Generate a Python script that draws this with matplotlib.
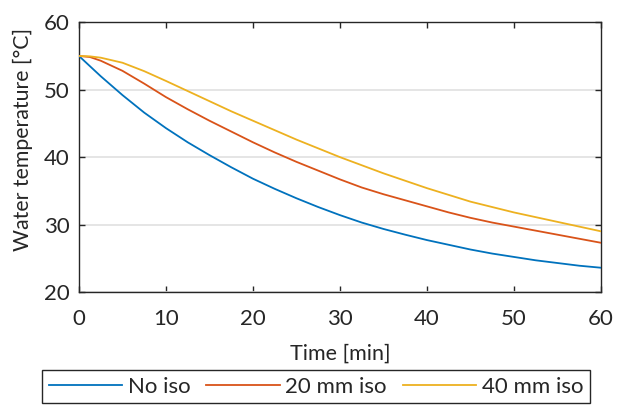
import matplotlib
matplotlib.use('Agg')
import matplotlib.pyplot as plt

# Dados
tempo = [0, 1.25, 2.5, 5, 7.5, 10, 12.5, 15, 17.5, 20, 22.5, 25, 27.5, 30, 32.5, 35, 37.5, 40, 42.5, 45, 47.5, 50, 52.5, 55, 57.5, 60]
sem_iso = [55.0, 53.5, 52.0, 49.2, 46.6, 44.3, 42.2, 40.3, 38.5, 36.8, 35.3, 33.9, 32.6, 31.4, 30.3, 29.35, 28.5, 27.7, 27.0, 26.3, 25.7, 25.2, 24.7, 24.3, 23.9, 23.6]
iso_20mm = [55.0, 54.85, 54.3, 52.8, 50.9, 48.9, 47.1, 45.4, 43.8, 42.2, 40.7, 39.3, 38.0, 36.7, 35.5, 34.5, 33.6, 32.7, 31.8, 31.0, 30.3, 29.7, 29.1, 28.5, 27.9, 27.3]
iso_40mm = [55.0, 54.95, 54.75, 54.0, 52.75, 51.3, 49.8, 48.3, 46.8, 45.4, 44.0, 42.6, 41.3, 40.0, 38.8, 37.6, 36.5, 35.4, 34.4, 33.4, 32.6, 31.8, 31.1, 30.4, 29.7, 29.0]
labels = ['No iso', '20 mm iso', '40 mm iso']
cores = ['#0072BD', '#D95319', '#EDB120']

plt.rcParams['font.family'] = ['Lato', 'DejaVu Sans']
plt.rcParams['font.size'] = 16

fig = plt.figure(figsize=(6.17, 4.05), dpi=100)
ax = fig.add_axes([0.128, 0.279, 0.846, 0.666])

for serie, cor, lab in zip([sem_iso, iso_20mm, iso_40mm], cores, labels):
    ax.plot(tempo, serie, color=cor, linewidth=1.3, label=lab, zorder=3)

ax.set_xlim(0, 60)
ax.set_ylim(20, 60)
ax.set_xticks(range(0, 61, 10))
ax.set_yticks(range(20, 61, 10))

# Grade horizontal clara
ax.grid(axis='y', color='#e3e3e3', linewidth=1.3, zorder=0)
ax.set_axisbelow(True)

# Bordas e ticks estilo matlab
for spine in ax.spines.values():
    spine.set_color('#262626')
    spine.set_linewidth(1.0)
ax.tick_params(direction='in', top=True, right=True, length=4, width=1.0,
               color='#262626', labelcolor='#262626', labelsize=16)
ax.tick_params(axis='x', pad=12)
ax.tick_params(axis='y', pad=6.5)

ax.set_xlabel('Time [min]', color='#262626', fontsize=15.5)
ax.xaxis.set_label_coords(0.5, -0.19)
ax.set_ylabel('Water temperature [°C]', color='#262626', fontsize=15.3)
ax.yaxis.set_label_coords(-0.088, 0.567)

leg = ax.legend(loc='upper center', bbox_to_anchor=(0.512, 0.0864), bbox_transform=fig.transFigure,
                ncol=3, fancybox=False, edgecolor='#262626', framealpha=1, fontsize=16,
                handlelength=3.3, handletextpad=0.25, columnspacing=0.72, borderpad=0.3,
                borderaxespad=0)
leg.get_frame().set_linewidth(1.0)
for t in leg.get_texts():
    t.set_color('#262626')

plt.savefig('out.png', dpi=100)
plt.close()
